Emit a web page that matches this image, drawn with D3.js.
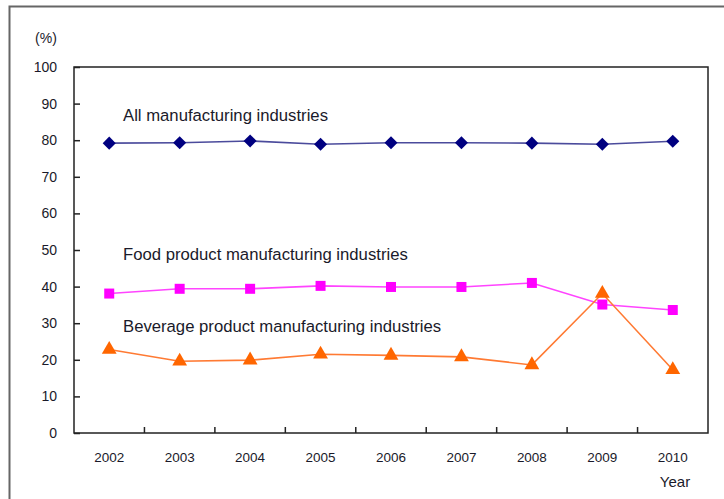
<!DOCTYPE html>
<html>
<head>
<meta charset="utf-8">
<script src="https://cdn.jsdelivr.net/npm/d3@7"></script>
<style>
  body { margin: 0; background: #fff; }
  svg text { font-family: "Liberation Sans", Arial, sans-serif; fill: #1a1a2a; }
</style>
</head>
<body>
<div id="chart"></div>
<script>
// chart data
const years = ["2002", "2003", "2004", "2005", "2006", "2007", "2008", "2009", "2010"];
const allManufacturing = [79.2, 79.3, 79.8, 78.9, 79.3, 79.3, 79.2, 78.9, 79.7];
const foodProduct = [38.1, 39.4, 39.4, 40.2, 39.9, 39.9, 41.0, 35.1, 33.6];
const beverageProduct = [22.8, 19.6, 19.9, 21.5, 21.2, 20.8, 18.6, 38.1, 17.3];
const yTicks = [0, 10, 20, 30, 40, 50, 60, 70, 80, 90, 100];

const series = [
  { name: "All manufacturing industries", values: allManufacturing, color: "#000080", line: "#4b4b9c", symbol: d3.symbolSquare, rotate: 45, size: 85, labelY: 121 },
  { name: "Food product manufacturing industries", values: foodProduct, color: "#ff00ff", line: "#ff44ff", symbol: d3.symbolSquare, rotate: 0, size: 100, labelY: 260 },
  { name: "Beverage product manufacturing industries", values: beverageProduct, color: "#ff6600", line: "#ff7a33", symbol: d3.symbolTriangle, rotate: 0, size: 95, labelY: 332 }
];

const W = 724, H = 499;
const plot = { left: 74, top: 67, right: 708, bottom: 433 };

const svg = d3.select("#chart").append("svg")
  .attr("width", W).attr("height", H);

// outer frame (only top and left visible)
svg.append("path")
  .attr("d", `M9.5,${H} L9.5,6.5 L${W},6.5`)
  .attr("fill", "none").attr("stroke", "#666").attr("stroke-width", 2);

const x = d3.scaleBand().domain(years).range([plot.left, plot.right]);
const y = d3.scaleLinear().domain([0, 100]).range([plot.bottom, plot.top]);

// plot box
svg.append("rect")
  .attr("x", plot.left).attr("y", plot.top)
  .attr("width", plot.right - plot.left).attr("height", plot.bottom - plot.top)
  .attr("fill", "none").attr("stroke", "#222").attr("stroke-width", 1.5);

// y axis: ticks pointing inward
const yAxis = svg.append("g")
  .attr("transform", `translate(${plot.left},0)`)
  .call(d3.axisRight(y).tickValues(yTicks).tickSize(6).tickFormat(""));
yAxis.select(".domain").remove();
yAxis.selectAll("line").attr("stroke", "#222").attr("stroke-width", 1.5);

svg.append("g").selectAll("text")
  .data(yTicks).join("text")
  .attr("x", 57).attr("y", d => y(d))
  .attr("dy", "0.36em")
  .attr("text-anchor", "end")
  .attr("font-size", 14)
  .text(d => d);

// x axis: ticks between categories, pointing up
const xBounds = years.slice(1).map(d => x(d));
svg.append("g").selectAll("line")
  .data(xBounds).join("line")
  .attr("x1", d => d).attr("x2", d => d)
  .attr("y1", plot.bottom).attr("y2", plot.bottom - 6)
  .attr("stroke", "#222").attr("stroke-width", 1.5);

svg.append("g").selectAll("text")
  .data(years).join("text")
  .attr("x", d => x(d) + x.bandwidth() / 2)
  .attr("y", 462)
  .attr("text-anchor", "middle")
  .attr("font-size", 13.5)
  .attr("textLength", 30).attr("lengthAdjust", "spacingAndGlyphs")
  .text(d => d);

svg.append("text")
  .attr("x", 675).attr("y", 487)
  .attr("text-anchor", "middle")
  .attr("font-size", 15)
  .text("Year");

svg.append("text")
  .attr("x", 46).attr("y", 43)
  .attr("text-anchor", "middle")
  .attr("font-size", 14)
  .text("(%)");

// series lines and markers
const line = d3.line()
  .x((d, i) => x(years[i]) + x.bandwidth() / 2)
  .y(d => y(d));

series.forEach(s => {
  svg.append("path")
    .datum(s.values)
    .attr("d", line)
    .attr("fill", "none")
    .attr("stroke", s.line)
    .attr("stroke-width", 1.6);

  svg.append("g").selectAll("path")
    .data(s.values).join("path")
    .attr("transform", (d, i) => `translate(${x(years[i]) + x.bandwidth() / 2},${y(d)}) rotate(${s.rotate})`)
    .attr("d", d3.symbol().type(s.symbol).size(s.size))
    .attr("fill", s.color);

  svg.append("text")
    .attr("x", 123).attr("y", s.labelY)
    .attr("font-size", 16.7)
    .text(s.name);
});
</script>
</body>
</html>
